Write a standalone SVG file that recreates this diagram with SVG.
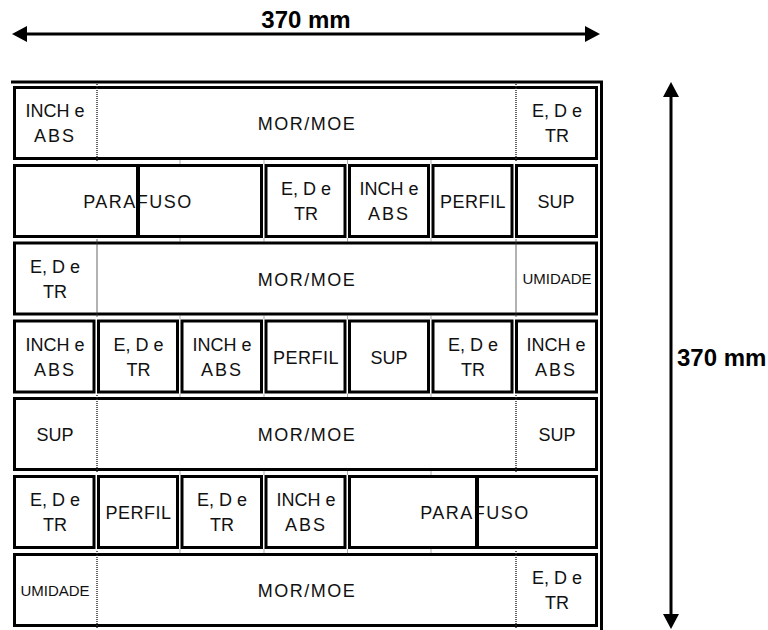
<svg xmlns="http://www.w3.org/2000/svg" width="768" height="630" viewBox="0 0 768 630">
<style>
.bg{fill:#fff}
.box{fill:#fff;stroke:#000;stroke-width:3}
.dot{stroke:#333;stroke-width:1.5;stroke-dasharray:1 1;fill:none}
.tick{stroke:#aaa;stroke-width:1;fill:none}
.bar{stroke:#000;stroke-width:4}
.t{font-family:"Liberation Sans",Arial,sans-serif;font-size:18px;fill:#111;text-anchor:middle}
.s{font-family:"Liberation Sans",Arial,sans-serif;font-size:15px;fill:#111;text-anchor:middle}
.dim{font-family:"Liberation Sans",Arial,sans-serif;font-size:24px;font-weight:bold;fill:#000}
.arr{stroke:#000;stroke-width:3;fill:none}
.frame{stroke:#000;stroke-width:3;fill:none}
</style>
<defs>
<marker id="ah" markerUnits="userSpaceOnUse" markerWidth="16" markerHeight="16" viewBox="0 0 16 16" refX="1" refY="8" orient="auto-start-reverse">
<path d="M0,0 L15,8 L0,16 z" fill="#000"/>
</marker>
</defs>
<rect class="bg" x="0" y="0" width="768" height="630"/>

<g id="connectors">
<line id="dim-h" class="arr" x1="26" y1="34" x2="586" y2="34" marker-start="url(#ah)" marker-end="url(#ah)"/>
<line id="dim-v" class="arr" x1="671" y1="96" x2="671" y2="615" marker-start="url(#ah)" marker-end="url(#ah)"/>
</g>
<g id="labels">
<text class="dim" x="306" y="28" text-anchor="middle">370 mm</text>
<text class="dim" x="677" y="366">370 mm</text>
</g>

<path class="frame" d="M11,82 H601.5 V630"/>
<path class="tick" d="M180,160 V164 M264,160 V164 M347.5,160 V164 M431,160 V164 M180,238 V241.5 M264,238 V241.5 M347.5,238 V241.5 M431,238 V241.5 M180,315.5 V319.5 M264,315.5 V319.5 M347.5,315.5 V319.5 M431,315.5 V319.5 M180,393.5 V397 M264,393.5 V397 M347.5,393.5 V397 M431,393.5 V397 M180,471 V475 M264,471 V475 M347.5,471 V475 M431,471 V475 M180,549 V553 M264,549 V553 M347.5,549 V553 M431,549 V553"/>

<!-- Row 1 -->
<g id="row1">
<rect class="box" x="14.5" y="87.5" width="582" height="71"/>
<path class="dot" d="M97,84 V162 M516,84 V162"/>
<text class="t" x="55" y="117">INCH e</text>
<text class="t" x="55" y="142" letter-spacing="2">ABS</text>
<text class="t" x="307" y="130" letter-spacing="1.5">MOR/MOE</text>
<text class="t" x="557" y="117">E, D e</text>
<text class="t" x="557" y="142">TR</text>
</g>

<!-- Row 2 -->
<g id="row2">
<g id="r2-parafuso">
<rect class="box" x="14.5" y="165.5" width="247" height="71"/>
<text class="t" x="138" y="208" letter-spacing="1.5">PARAFUSO</text>
<line class="bar" x1="138" y1="164" x2="138" y2="238"/>
</g>
<g id="r2-edtr"><rect class="box" x="266" y="165.5" width="79" height="71"/><text class="t" x="306" y="195">E, D e</text><text class="t" x="306" y="220">TR</text></g>
<g id="r2-inch"><rect class="box" x="349.5" y="165.5" width="79" height="71"/><text class="t" x="389" y="195">INCH e</text><text class="t" x="389" y="220" letter-spacing="2">ABS</text></g>
<g id="r2-perfil"><rect class="box" x="433" y="165.5" width="79" height="71"/><text class="t" x="473" y="208" letter-spacing="0.5">PERFIL</text></g>
<g id="r2-sup"><rect class="box" x="516.5" y="165.5" width="80" height="71"/><text class="t" x="556" y="208">SUP</text></g>
</g>

<!-- Row 3 -->
<g id="row3">
<rect class="box" x="14.5" y="243" width="582" height="71"/>
<path class="dot" d="M97,239.5 V317.5 M516,239.5 V317.5"/>
<text class="t" x="55" y="272.5">E, D e</text>
<text class="t" x="55" y="297.5">TR</text>
<text class="t" x="307" y="285.5" letter-spacing="1.5">MOR/MOE</text>
<text class="s" x="557" y="284">UMIDADE</text>
</g>

<!-- Row 4 -->
<g id="row4">
<g id="r4-c1"><rect class="box" x="14.5" y="321" width="79.5" height="71"/><text class="t" x="55" y="350.5">INCH e</text><text class="t" x="55" y="375.5" letter-spacing="2">ABS</text></g>
<g id="r4-c2"><rect class="box" x="98.5" y="321" width="79" height="71"/><text class="t" x="138.5" y="350.5">E, D e</text><text class="t" x="138.5" y="375.5">TR</text></g>
<g id="r4-c3"><rect class="box" x="182" y="321" width="79.5" height="71"/><text class="t" x="222" y="350.5">INCH e</text><text class="t" x="222" y="375.5" letter-spacing="2">ABS</text></g>
<g id="r4-c4"><rect class="box" x="266" y="321" width="79" height="71"/><text class="t" x="306" y="363.5" letter-spacing="0.5">PERFIL</text></g>
<g id="r4-c5"><rect class="box" x="349.5" y="321" width="79" height="71"/><text class="t" x="389" y="363.5">SUP</text></g>
<g id="r4-c6"><rect class="box" x="433" y="321" width="79" height="71"/><text class="t" x="473" y="350.5">E, D e</text><text class="t" x="473" y="375.5">TR</text></g>
<g id="r4-c7"><rect class="box" x="516.5" y="321" width="80" height="71"/><text class="t" x="556" y="350.5">INCH e</text><text class="t" x="556" y="375.5" letter-spacing="2">ABS</text></g>
</g>

<!-- Row 5 -->
<g id="row5">
<rect class="box" x="14.5" y="398.5" width="582" height="71"/>
<path class="dot" d="M97,395 V473 M516,395 V473"/>
<text class="t" x="55" y="441">SUP</text>
<text class="t" x="307" y="441" letter-spacing="1.5">MOR/MOE</text>
<text class="t" x="557" y="441">SUP</text>
</g>

<!-- Row 6 -->
<g id="row6">
<g id="r6-c1"><rect class="box" x="14.5" y="476.5" width="79.5" height="71"/><text class="t" x="55" y="506">E, D e</text><text class="t" x="55" y="531">TR</text></g>
<g id="r6-c2"><rect class="box" x="98.5" y="476.5" width="79" height="71"/><text class="t" x="138.5" y="519" letter-spacing="0.5">PERFIL</text></g>
<g id="r6-c3"><rect class="box" x="182" y="476.5" width="79.5" height="71"/><text class="t" x="222" y="506">E, D e</text><text class="t" x="222" y="531">TR</text></g>
<g id="r6-c4"><rect class="box" x="266" y="476.5" width="79" height="71"/><text class="t" x="306" y="506">INCH e</text><text class="t" x="306" y="531" letter-spacing="2">ABS</text></g>
<g id="r6-parafuso">
<rect class="box" x="349.5" y="476.5" width="247" height="71"/>
<text class="t" x="475" y="519" letter-spacing="1.5">PARAFUSO</text>
<line class="bar" x1="477" y1="475" x2="477" y2="549"/>
</g>
</g>

<!-- Row 7 -->
<g id="row7">
<rect class="box" x="14.5" y="554.5" width="582" height="71"/>
<path class="dot" d="M97,551 V629 M516,551 V629"/>
<text class="s" x="55" y="595.5">UMIDADE</text>
<text class="t" x="307" y="597" letter-spacing="1.5">MOR/MOE</text>
<text class="t" x="557" y="584">E, D e</text>
<text class="t" x="557" y="609">TR</text>
</g>
</svg>
